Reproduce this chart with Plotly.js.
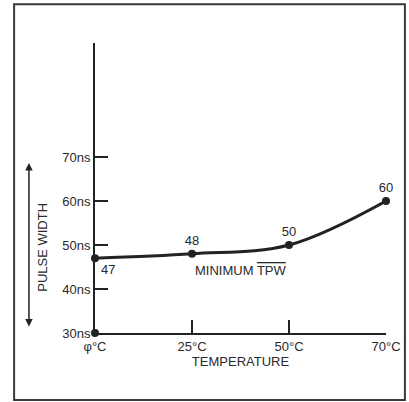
<!DOCTYPE html>
<html>
<head>
<meta charset="utf-8">
<script src="https://cdn.plot.ly/plotly-3.0.1.min.js"></script>
<style>html,body{margin:0;padding:0;background:#fff;}#chart{width:409px;height:402px;}</style>
</head>
<body>
<div id="chart"></div>
<script>
const temperatures = ["φ°C", "25°C", "50°C", "70°C"];
const pulseWidth = [47, 48, 50, 60];
const pointLabels = ["47", "48", "50", "60"];
const originX = ["φ°C"];
const originY = [30];
const yTickVals = [30, 40, 50, 60, 70];
const yTickText = ["30ns", "40ns", "50ns", "60ns", "70ns"];

const ink = "#222222";
const txt = "#2a2a2a";
const fnt = {family: "Liberation Sans, Arial, sans-serif", size: 13, color: txt};

const traces = [
  {
    x: temperatures, y: pulseWidth, type: "scatter", mode: "lines+markers+text",
    line: {color: ink, width: 3, shape: "spline", smoothing: 1.0},
    marker: {color: ink, size: 8},
    text: pointLabels,
    textposition: ["bottom right", "top center", "top center", "top center"],
    textfont: fnt,
    cliponaxis: false, hoverinfo: "skip", showlegend: false
  },
  {
    x: originX, y: originY, type: "scatter", mode: "markers",
    marker: {color: ink, size: 8}, cliponaxis: false, showlegend: false
  }
];

const layout = {
  width: 409, height: 402,
  margin: {l: 95, r: 23, t: 43, b: 69, pad: 0},
  paper_bgcolor: "#ffffff", plot_bgcolor: "#ffffff",
  font: fnt,
  xaxis: {
    type: "category", range: [0, 3],
    showline: true, linecolor: ink, linewidth: 2,
    ticks: "inside", ticklen: 13, tickwidth: 1.5, tickcolor: ink,
    showgrid: false, zeroline: false, tickfont: fnt,
    title: {text: "TEMPERATURE", font: fnt, standoff: 2}
  },
  yaxis: {
    range: [30, 95.9],
    tickvals: yTickVals, ticktext: yTickText,
    showline: true, linecolor: ink, linewidth: 2,
    ticks: "inside", ticklen: 13, tickwidth: 1.5, tickcolor: ink,
    showgrid: false, zeroline: false, tickfont: fnt
  },
  shapes: [
    {type: "rect", xref: "paper", yref: "paper", x0: -0.278, x1: 1.065, y0: -0.231, y1: 1.134,
     line: {color: "#3a3a3a", width: 2}}
  ],
  annotations: [
    {xref: "x", yref: "y", x: 1.5, y: 44.1, text: 'MINIMUM <span style="text-decoration:overline">TPW</span>',
     showarrow: false, font: fnt, xanchor: "center", yanchor: "middle"},
    {xref: "paper", yref: "paper", x: -0.179, y: 0.297, text: "PULSE WIDTH", textangle: -90,
     showarrow: false, font: fnt, xanchor: "center", yanchor: "middle"},
    {xref: "paper", yref: "paper", x: -0.227, y: 0.586, text: "", showarrow: true,
     ax: 0, ay: 165, arrowside: "end+start", arrowhead: 2, arrowsize: 1, arrowwidth: 1.5, arrowcolor: ink}
  ]
};

Plotly.newPlot("chart", traces, layout, {staticPlot: true, displayModeBar: false});
</script>
</body>
</html>
